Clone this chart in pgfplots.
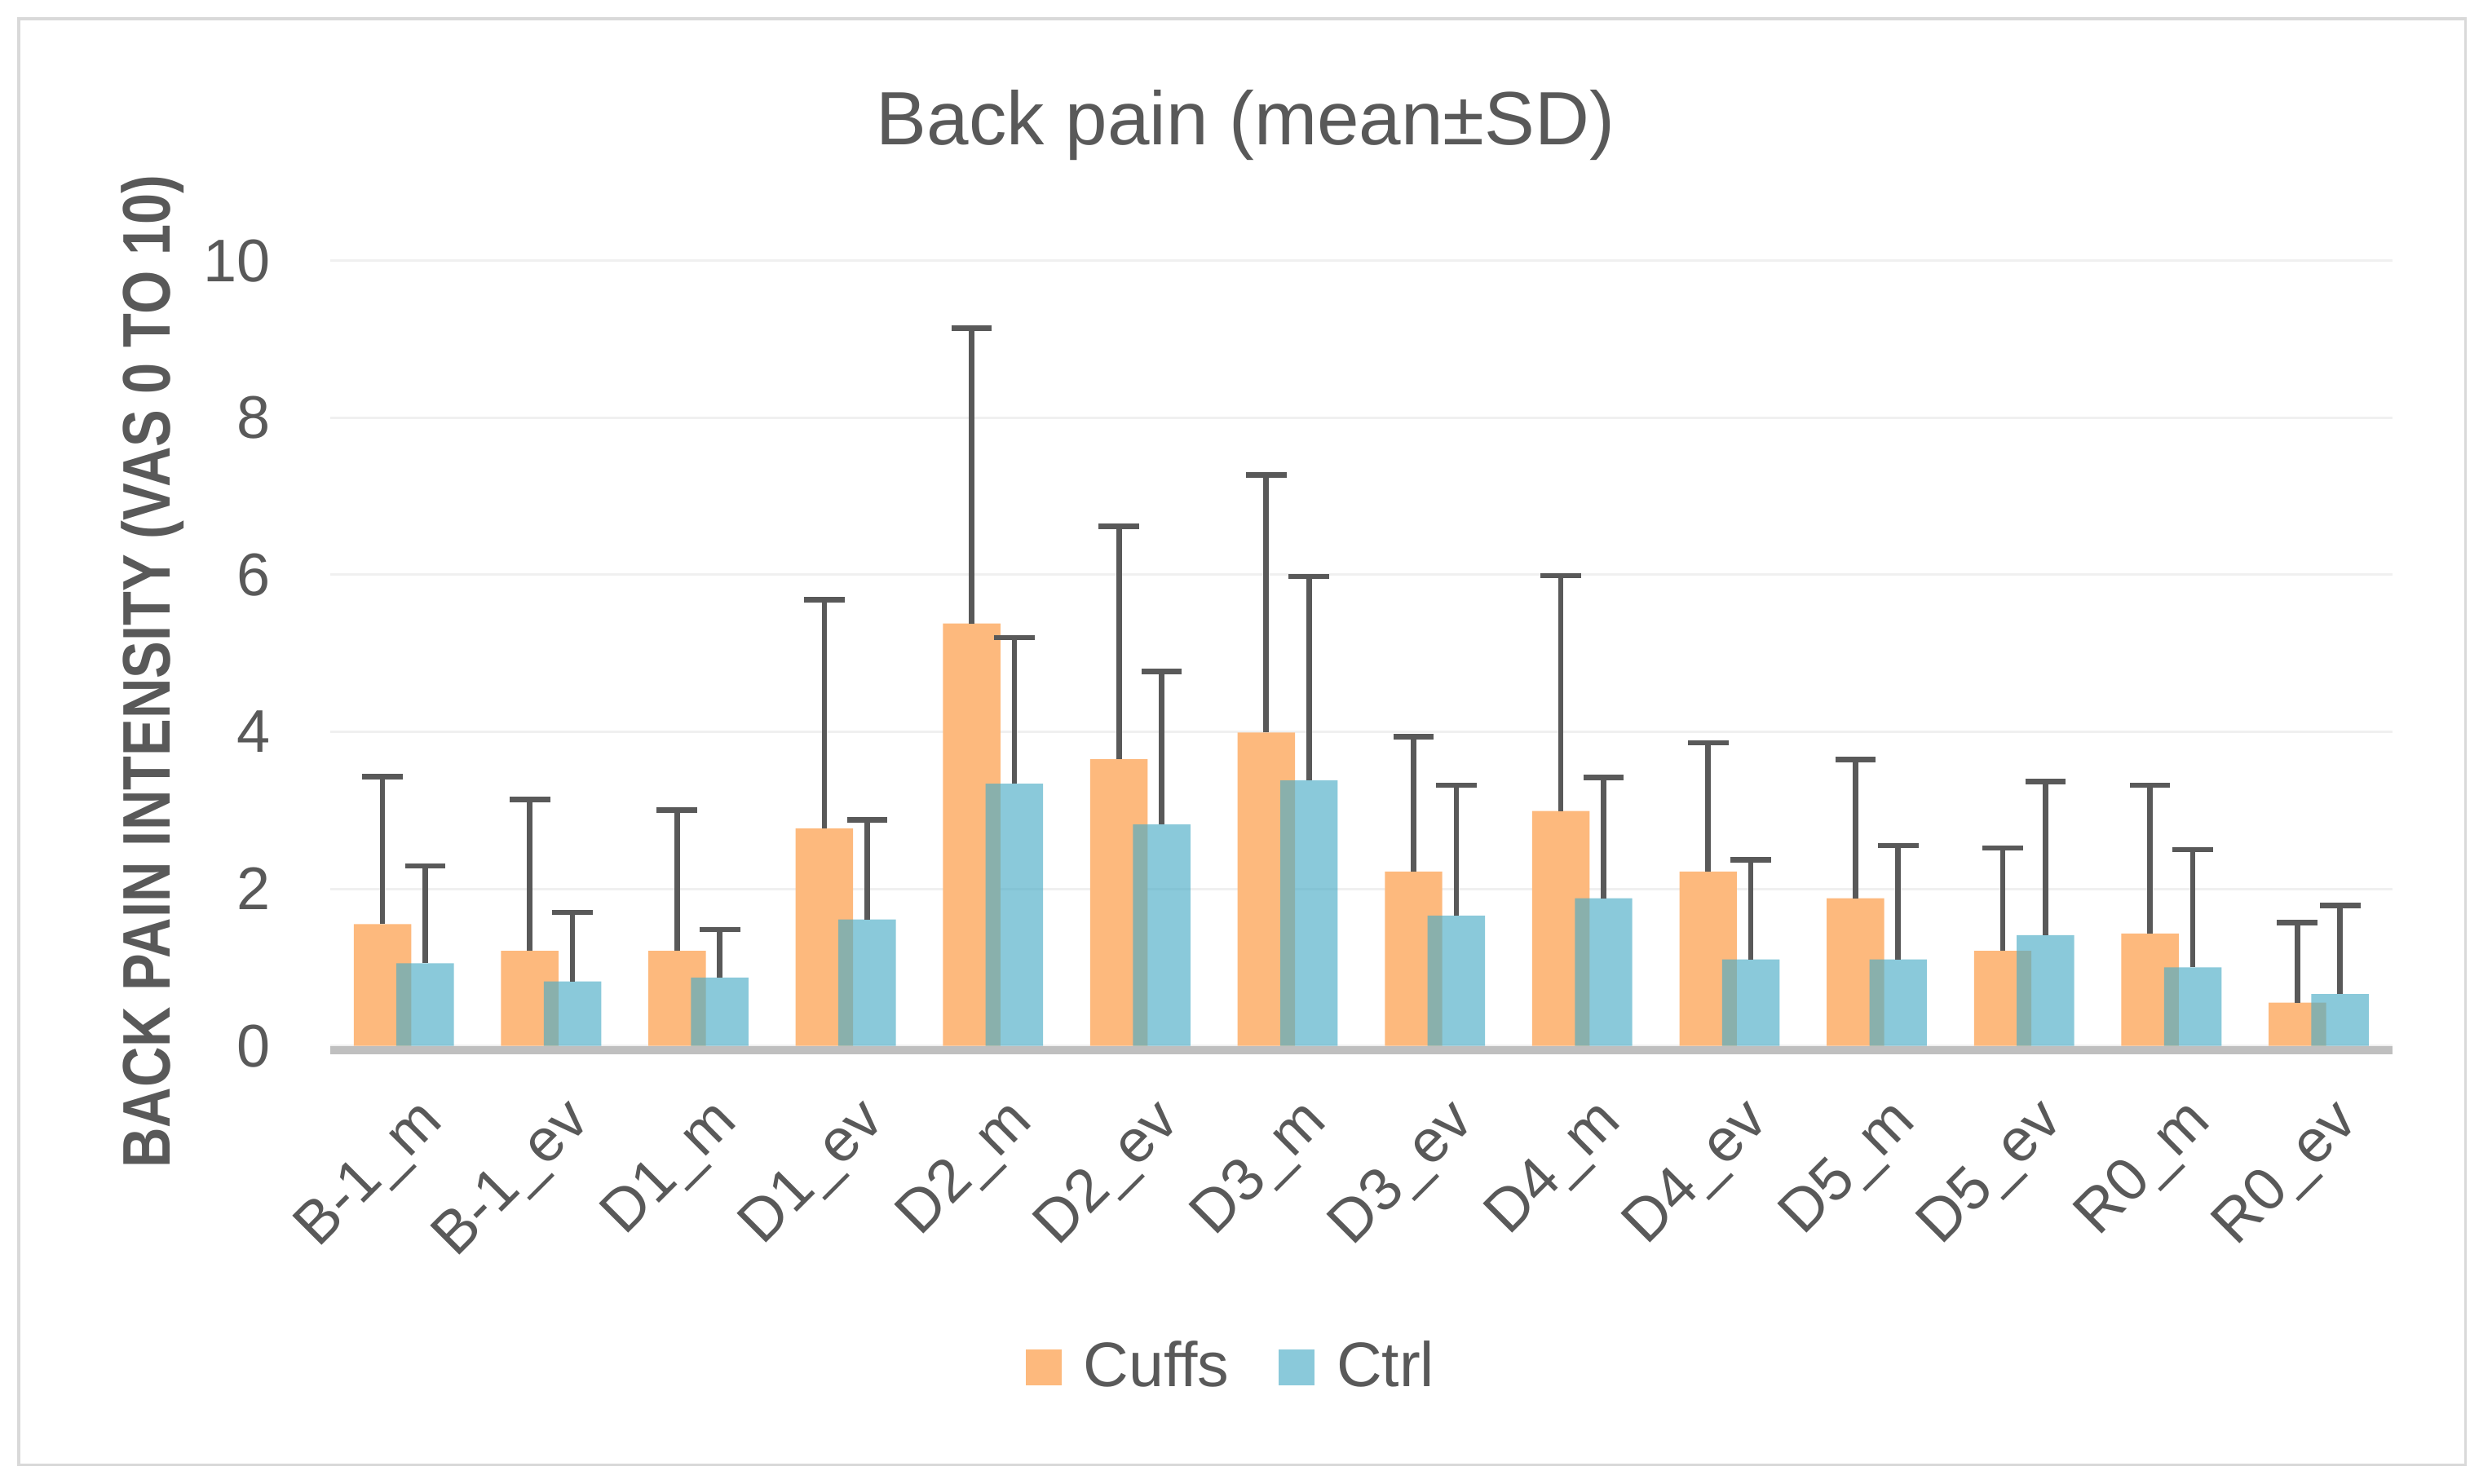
\documentclass[border=0pt]{standalone}
\usepackage{fontspec}
\setmainfont{Liberation Sans}
\usepackage{pgfplots}
\pgfplotsset{compat=1.18}
\usepackage{pgfplotstable}

\definecolor{cuffs}{HTML}{FDB97D}
\definecolor{ctrl}{HTML}{4BACC6}
\definecolor{txt}{HTML}{595959}
\definecolor{errc}{HTML}{595959}
\definecolor{gridc}{HTML}{F0F0F0}
\definecolor{basec}{HTML}{BFBFBF}
\definecolor{framec}{HTML}{D9D9D9}

% mean and SD (plus only)
\pgfplotstableread{
x  mean  sd
0  1.55  1.88
1  1.21  1.93
2  1.21  1.79
3  2.77  2.91
4  5.38  3.76
5  3.65  2.97
6  3.99  3.28
7  2.22  1.72
8  2.99  3.00
9  2.22  1.64
10 1.88  1.77
11 1.21  1.31
12 1.43  1.89
13 0.55  1.02
}\cuffsdata

\pgfplotstableread{
x  mean  sd
0  1.05  1.24
1  0.82  0.88
2  0.87  0.61
3  1.61  1.27
4  3.34  1.86
5  2.82  1.95
6  3.38  2.60
7  1.66  1.66
8  1.88  1.54
9  1.10  1.27
10 1.10  1.45
11 1.41  1.96
12 1.00  1.50
13 0.66  1.13
}\ctrldata

\begin{document}
\begin{tikzpicture}
\begin{axis}[
  scale only axis,
  width=13.24cm, height=5.04cm,
  xmin=-0.5, xmax=13.5,
  ymin=0, ymax=10,
  ybar, bar width=0.39,
  xtick={0,...,13},
  xticklabels={B-1\_m,B-1\_ev,D1\_m,D1\_ev,D2\_m,D2\_ev,D3\_m,D3\_ev,D4\_m,D4\_ev,D5\_m,D5\_ev,R0\_m,R0\_ev},
  ytick={0,2,...,10},
  ymajorgrids,
  grid style={gridc, line width=0.45pt},
  axis x line*=bottom,
  axis y line*=left,
  x axis line style={basec, line width=1.5pt, yshift=-0.75pt, -},
  y axis line style={draw=none},
  tick style={draw=none},
  /pgf/number format/assume math mode=true,
  yticklabel style={font=\fontsize{11}{13}\selectfont, text=txt, anchor=east, inner sep=0pt, xshift=-0.377cm},
  xticklabel style={font=\fontsize{11}{13}\selectfont, text=txt, inner sep=0pt, xshift=0.07cm, yshift=-0.15cm, rotate=45, anchor=north east},
  ylabel={\scalebox{0.83}[1]{\bfseries BACK PAIN INTENSITY (VAS 0 TO 10)}},
  ylabel style={at={(axis description cs:-0.0862,0.477)}, anchor=center, font=\fontsize{12.3}{14}\selectfont, text=txt},
  title={Back pain (mean±SD)},
  title style={at={(axis description cs:0.444,1)}, anchor=center, yshift=0.66cm, font=\fontsize{13.8}{16}\selectfont, text=txt},
  legend style={at={(axis description cs:0.439,-0.41)}, anchor=center, draw=none, fill=none,
    legend columns=2, font=\fontsize{11.5}{13}\selectfont, text=txt,
    /tikz/every odd column/.append style={column sep=0.07cm},
    /tikz/every even column/.append style={column sep=0.25cm}},
  legend image code/.code={\fill[#1] (0cm,-0.115cm) rectangle (0.23cm,0.115cm);},
]
\addplot[fill=cuffs, draw=none, bar shift=-0.145,
  error bars/.cd, y dir=plus, y explicit,
  error bar style={errc, line width=1pt},
  error mark options={rotate=90, errc, mark size=0.13cm, line width=1pt}]
  table[x=x, y=mean, y error=sd] {\cuffsdata};
\addplot[fill=ctrl, fill opacity=0.65, draw=none, bar shift=0.145,
  error bars/.cd, y dir=plus, y explicit,
  error bar style={errc, line width=1pt},
  error mark options={rotate=90, errc, mark size=0.13cm, line width=1pt}]
  table[x=x, y=mean, y error=sd] {\ctrldata};
\legend{Cuffs, Ctrl}
\end{axis}
\pgfresetboundingbox
\path[use as bounding box] (-2.12,-2.81) rectangle (13.88,6.715);
\draw[framec, line width=0.5pt] (-2.0,-2.69) rectangle (13.71,6.595);
\end{tikzpicture}
\end{document}
